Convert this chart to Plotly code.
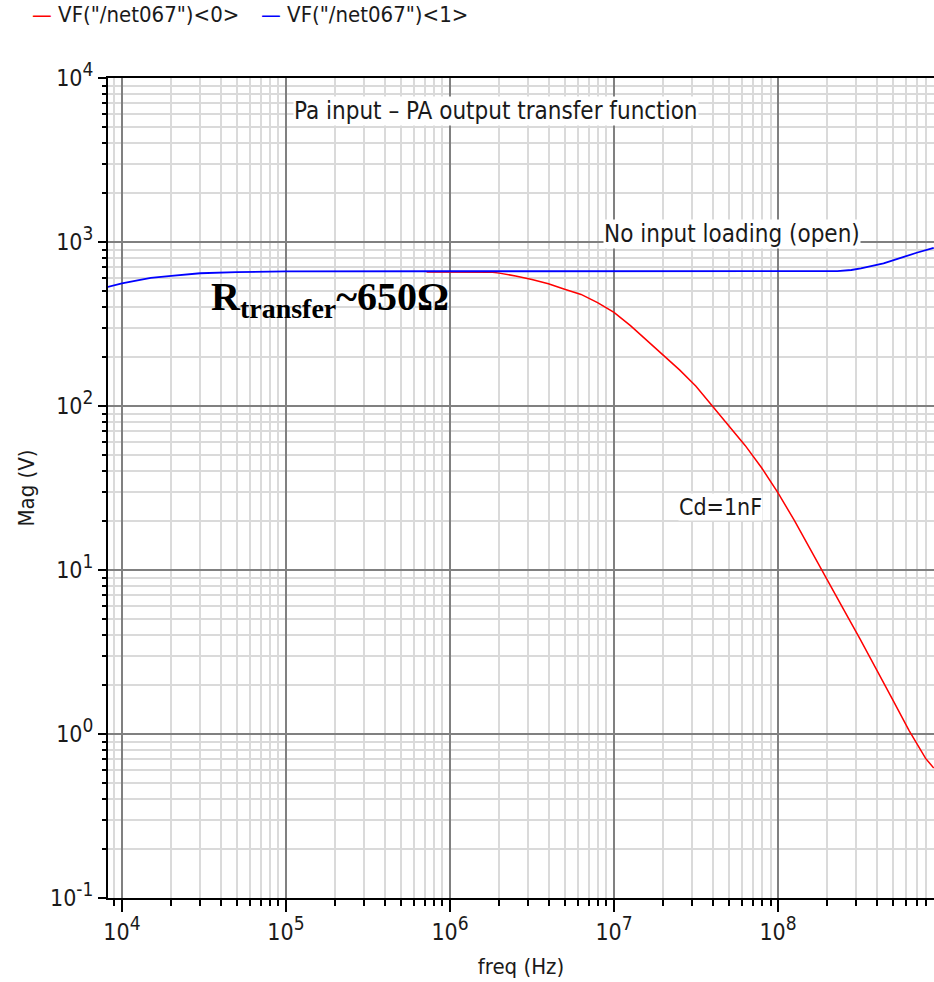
import plotly.graph_objects as go

# Red trace: VF("/net067")<0>  (Cd = 1nF)
red_freq = [7.2e5, 1.0e6, 1.5e6, 1.82e6, 2.0e6, 2.51e6, 3.16e6, 3.98e6, 5.0e6, 6.3e6,
            7.94e6, 1.0e7, 1.26e7, 1.58e7, 2.0e7, 2.51e7, 3.16e7, 3.98e7, 5.0e7,
            6.3e7, 7.94e7, 1.0e8, 1.26e8, 1.58e8, 2.0e8, 2.51e8, 3.16e8, 3.98e8,
            5.0e8, 6.3e8, 7.94e8, 8.9e8]
red_mag = [656, 656, 655, 653, 646, 621, 590, 556, 515, 479,
           427, 372, 309, 251, 204, 166, 132, 100, 76,
           57.5, 42, 29.5, 20, 13.2, 8.7, 5.75, 3.8, 2.5,
           1.62, 1.05, 0.71, 0.62]

# Blue trace: VF("/net067")<1>  (no input loading)
blue_freq = [8.2e3, 1.0e4, 1.2e4, 1.5e4, 2.0e4, 3.0e4, 5.0e4, 1.0e5, 1.0e6, 1.0e7,
             1.0e8, 2.3e8, 2.8e8, 3.2e8, 4.4e8, 5.8e8, 7.0e8, 8.9e8]
blue_mag = [532, 560, 580, 605, 621, 645, 655, 662, 663, 663,
            663, 665, 675, 690, 740, 810, 860, 920]

x_major = [1e4, 1e5, 1e6, 1e7, 1e8]
x_major_exp = ["4", "5", "6", "7", "8"]
y_major = [1e-1, 1e0, 1e1, 1e2, 1e3, 1e4]
y_major_exp = ["-1", "0", "1", "2", "3", "4"]
x_minor = [m * 10 ** e for e in range(3, 9) for m in range(2, 10)]
y_minor = [m * 10 ** e for e in range(-1, 4) for m in range(2, 10)]

legend_names = ['VF("/net067")<0>', 'VF("/net067")<1>']
legend_colors = ["#ff0000", "#0000ff"]

FONT = "DejaVu Sans Condensed, DejaVu Sans"
TXT = "#1a1a1a"

FIG_W, FIG_H = 934, 982
ML, MR, MT, MB = 108, 0, 78, 84


def power_label(e):
    return "10<sup><span style='font-size:19px'>%s</span></sup>" % e


fig = go.Figure()
fig.add_trace(go.Scatter(x=red_freq, y=red_mag, mode="lines",
                         name=legend_names[0], showlegend=False,
                         line=dict(color=legend_colors[0], width=1.5)))
fig.add_trace(go.Scatter(x=blue_freq, y=blue_mag, mode="lines",
                         name=legend_names[1], showlegend=False,
                         line=dict(color=legend_colors[1], width=1.8)))

fig.update_xaxes(type="log", range=[3.915, 8.951],
                 tickmode="array", tickvals=x_major,
                 ticktext=[power_label(e) for e in x_major_exp],
                 ticks="outside", ticklen=12, tickwidth=1.5, tickcolor="black",
                 showline=True, linecolor="black", linewidth=2, mirror=True,
                 showgrid=True, gridcolor="#808080", gridwidth=1.5,
                 minor=dict(tickmode="array", tickvals=x_minor, ticks="outside",
                            ticklen=6, tickwidth=1.5, tickcolor="black",
                            showgrid=True, gridcolor="#dadada", gridwidth=1.5),
                 tickfont=dict(family=FONT, size=23, color=TXT),
                 title=dict(text="freq (Hz)", font=dict(family=FONT, size=22, color=TXT),
                            standoff=15),
                 zeroline=False)
fig.update_yaxes(type="log", range=[-1, 4],
                 tickmode="array", tickvals=y_major,
                 ticktext=[power_label(e) for e in y_major_exp],
                 ticks="outside", ticklen=8, tickwidth=1.5, tickcolor="black",
                 showline=True, linecolor="black", linewidth=2, mirror=False,
                 showgrid=True, gridcolor="#808080", gridwidth=1.5,
                 minor=dict(tickmode="array", tickvals=y_minor, ticks="outside",
                            ticklen=4, tickwidth=1.5, tickcolor="black",
                            showgrid=True, gridcolor="#dadada", gridwidth=1.5),
                 tickfont=dict(family=FONT, size=23, color=TXT),
                 title=dict(text="Mag (V)", font=dict(family=FONT, size=22, color=TXT),
                            standoff=9),
                 zeroline=False)

fig.add_annotation(x=6.283, y=3.80, xref="x", yref="y",
                   text="Pa input – PA output transfer function",
                   showarrow=False, font=dict(family=FONT, size=24, color=TXT),
                   bgcolor="white", borderpad=0)
fig.add_annotation(x=6.93, y=3.05, xref="x", yref="y", xanchor="left",
                   text="No input loading (open)",
                   showarrow=False, font=dict(family=FONT, size=24, color=TXT),
                   bgcolor="white", borderpad=0)
fig.add_annotation(x=7.39, y=1.384, xref="x", yref="y", xanchor="left",
                   text="Cd=1nF",
                   showarrow=False, font=dict(family=FONT, size=23, color=TXT),
                   bgcolor="white", borderpad=0)
fig.add_annotation(x=4.53, y=2.655, xref="x", yref="y", xanchor="left",
                   text="<b>R<sub>transfer</sub>~650Ω</b>",
                   showarrow=False, font=dict(family="Liberation Serif", size=40, color="black"))

# legend drawn as text entries (short coloured dash + name); pixel positions in the figure
pw, ph = FIG_W - ML - MR, FIG_H - MT - MB
legend_px = [30, 259]
for name, col, lx in zip(legend_names, legend_colors, legend_px):
    fig.add_annotation(x=(lx - ML) / pw, y=(FIG_H - 15 - MB) / ph,
                       xref="paper", yref="paper",
                       text="<span style='color:%s'>—</span> %s" % (col, name),
                       showarrow=False, xanchor="left", yanchor="middle",
                       font=dict(family=FONT, size=22, color=TXT))

fig.update_layout(width=FIG_W, height=FIG_H,
                  margin=dict(l=ML, r=MR, t=MT, b=MB, autoexpand=False),
                  plot_bgcolor="white", paper_bgcolor="white",
                  showlegend=False)

fig.write_html("out.html",
               config={"displayModeBar": False},
               post_script="document.body.style.margin='0';document.body.style.overflow='hidden';")
